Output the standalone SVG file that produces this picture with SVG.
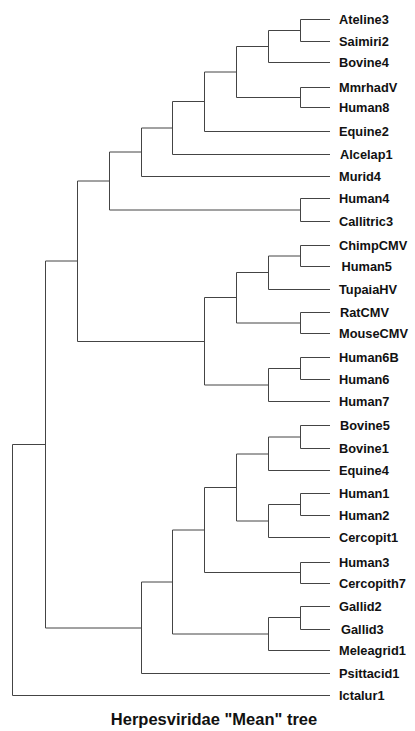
<svg xmlns="http://www.w3.org/2000/svg" width="415" height="731" viewBox="0 0 415 731">
<style>
.e{fill:none;stroke:#444;stroke-width:1}
.l{font-family:"Liberation Sans",Arial,Helvetica,sans-serif;font-weight:bold;font-size:12.8px;fill:#111}
.t{font-family:"Liberation Sans",Arial,Helvetica,sans-serif;font-weight:bold;font-size:16.5px;fill:#111}
</style>
<rect width="415" height="731" fill="#fff"/>
<g id="connectors">
<path class="e" d="M330 19.5H300.5V41.5H330"/>
<path class="e" d="M300.5 30.5H268.5V62.5H330"/>
<path class="e" d="M330 87.5H300.5V107.5H330"/>
<path class="e" d="M268.5 46.5H236.5V97.5H300.5"/>
<path class="e" d="M236.5 72H204.5V131.5H330"/>
<path class="e" d="M204.5 101.5H172.5V154.5H330"/>
<path class="e" d="M172.5 128H141.5V176.5H330"/>
<path class="e" d="M330 198.5H300.5V221.5H330"/>
<path class="e" d="M141.5 152H109.5V210H300.5"/>
<path class="e" d="M330 245.5H300.5V266.5H330"/>
<path class="e" d="M300.5 256H268.5V289.5H330"/>
<path class="e" d="M330 312.5H300.5V333.5H330"/>
<path class="e" d="M268.5 272.5H236.5V323H300.5"/>
<path class="e" d="M330 357.5H300.5V379.5H330"/>
<path class="e" d="M300.5 368.5H268.5V401.5H330"/>
<path class="e" d="M236.5 297.5H204.5V385H268.5"/>
<path class="e" d="M109.5 181H77.5V341.5H204.5"/>
<path class="e" d="M330 425.5H300.5V448.5H330"/>
<path class="e" d="M300.5 437H268.5V470.5H330"/>
<path class="e" d="M330 493.5H300.5V515.5H330"/>
<path class="e" d="M300.5 504.5H268.5V537.5H330"/>
<path class="e" d="M268.5 454H236.5V521H268.5"/>
<path class="e" d="M330 562.5H300.5V583.5H330"/>
<path class="e" d="M236.5 487.5H204.5V572.5H300.5"/>
<path class="e" d="M330 606.5H300.5V629.5H330"/>
<path class="e" d="M300.5 617.5H268.5V650.5H330"/>
<path class="e" d="M204.5 530H172.5V634H268.5"/>
<path class="e" d="M172.5 582H141.5V673.5H330"/>
<path class="e" d="M77.5 261H45.5V628H141.5"/>
<path class="e" d="M45.5 444.5H12.5V695.5H330"/>
</g>
<g id="Ateline3"><text class="l" x="339" y="24">Ateline3</text></g>
<g id="Saimiri2"><text class="l" x="339" y="46">Saimiri2</text></g>
<g id="Bovine4"><text class="l" x="339" y="67">Bovine4</text></g>
<g id="MmrhadV"><text class="l" x="339" y="92">MmrhadV</text></g>
<g id="Human8"><text class="l" x="339" y="112">Human8</text></g>
<g id="Equine2"><text class="l" x="339" y="136">Equine2</text></g>
<g id="Alcelap1"><text class="l" x="340" y="159">Alcelap1</text></g>
<g id="Murid4"><text class="l" x="339" y="181">Murid4</text></g>
<g id="Human4"><text class="l" x="339" y="203">Human4</text></g>
<g id="Callitric3"><text class="l" x="339" y="226">Callitric3</text></g>
<g id="ChimpCMV"><text class="l" x="339" y="250">ChimpCMV</text></g>
<g id="Human5"><text class="l" x="341.5" y="271">Human5</text></g>
<g id="TupaiaHV"><text class="l" x="339" y="294">TupaiaHV</text></g>
<g id="RatCMV"><text class="l" x="340" y="317">RatCMV</text></g>
<g id="MouseCMV"><text class="l" x="339" y="338">MouseCMV</text></g>
<g id="Human6B"><text class="l" x="339" y="362">Human6B</text></g>
<g id="Human6"><text class="l" x="339" y="384">Human6</text></g>
<g id="Human7"><text class="l" x="339" y="406">Human7</text></g>
<g id="Bovine5"><text class="l" x="340" y="430">Bovine5</text></g>
<g id="Bovine1"><text class="l" x="339" y="453">Bovine1</text></g>
<g id="Equine4"><text class="l" x="339" y="475">Equine4</text></g>
<g id="Human1"><text class="l" x="339" y="498">Human1</text></g>
<g id="Human2"><text class="l" x="339" y="520">Human2</text></g>
<g id="Cercopit1"><text class="l" x="339" y="542">Cercopit1</text></g>
<g id="Human3"><text class="l" x="339" y="567">Human3</text></g>
<g id="Cercopith7"><text class="l" x="339" y="588">Cercopith7</text></g>
<g id="Gallid2"><text class="l" x="339" y="611">Gallid2</text></g>
<g id="Gallid3"><text class="l" x="341" y="634">Gallid3</text></g>
<g id="Meleagrid1"><text class="l" x="339" y="655">Meleagrid1</text></g>
<g id="Psittacid1"><text class="l" x="339" y="678">Psittacid1</text></g>
<g id="Ictalur1"><text class="l" x="339" y="700">Ictalur1</text></g>
<g id="title"><text class="t" x="214" y="725" text-anchor="middle">Herpesviridae "Mean" tree</text></g>
</svg>
